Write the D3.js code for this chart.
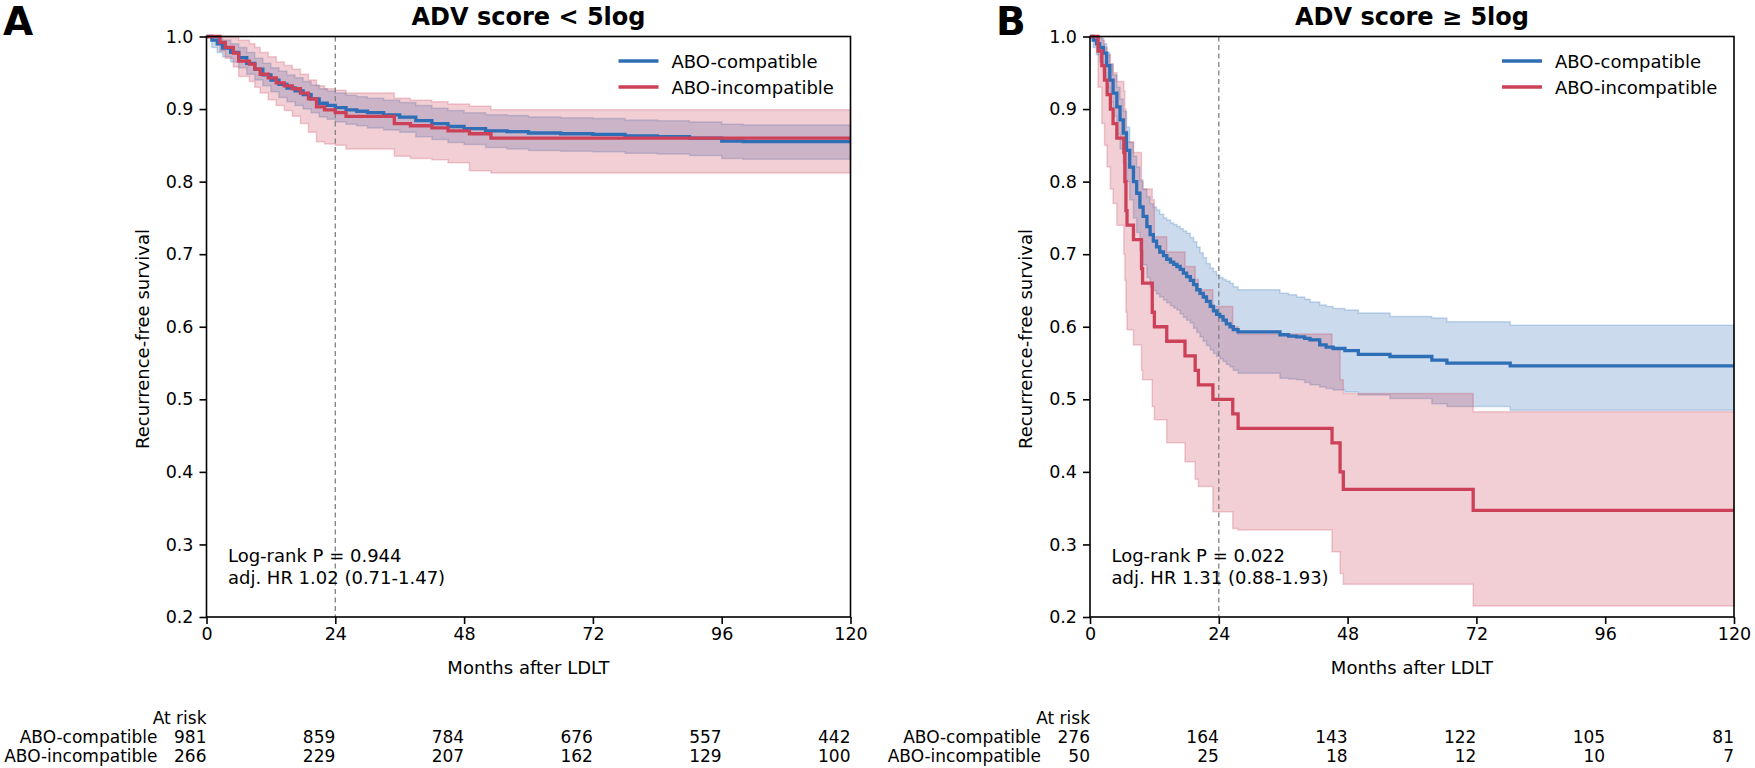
<!DOCTYPE html>
<html>
<head>
<meta charset="utf-8">
<script src="https://cdn.jsdelivr.net/npm/d3@7"></script>
<style>
  body { margin: 0; background: #fff; }
  svg text { font-family: "DejaVu Sans", sans-serif; fill: #000; }
</style>
</head>
<body>
<svg id="chart" width="1755" height="768"></svg>
<script>
// ---- data ----
const monthTicks = [0, 24, 48, 72, 96, 120];
const survTicks = [0.2, 0.3, 0.4, 0.5, 0.6, 0.7, 0.8, 0.9, 1.0];
const groupNames = ["ABO-compatible", "ABO-incompatible"];
const panelTitles = ["ADV score < 5log", "ADV score \u2265 5log"];
const panelLetters = ["A", "B"];
const logRankText = ["Log-rank P = 0.944", "Log-rank P = 0.022"];
const hrText = ["adj. HR 1.02 (0.71-1.47)", "adj. HR 1.31 (0.88-1.93)"];

// panel A, ABO-compatible
const aCompT = [0, 1, 2, 3, 4.5, 6, 7.5, 9, 10.5, 12, 13.5, 15, 16.5, 18, 19.5, 21, 22.5, 24, 26, 28, 30, 33, 36, 39, 42, 45, 48, 52, 56, 60, 66, 72, 78, 84, 90, 96, 100];
const aCompS = [1.0, .995, .99, .984, .978, .971, .963, .955, .947, .94, .934, .929, .925, .92, .914, .908, .905, .902, .899, .897, .895, .892, .889, .884, .88, .876, .873, .87, .869, .867, .866, .865, .863, .862, .86, .856, .855];
const aCompHi = [1.0, 1.0, .998, .995, .99, .985, .978, .97, .963, .957, .952, .947, .943, .938, .933, .928, .925, .922, .919, .917, .915, .912, .909, .905, .901, .898, .895, .892, .891, .889, .888, .887, .885, .884, .882, .879, .878];
const aCompLo = [1.0, .985, .978, .972, .965, .957, .948, .94, .932, .924, .916, .91, .905, .9, .895, .889, .886, .882, .879, .877, .874, .871, .868, .862, .858, .854, .851, .847, .845, .843, .842, .841, .839, .838, .836, .832, .831];

// panel A, ABO-incompatible
const aIncT = [0, 2.5, 3.5, 5, 6, 8, 9, 10, 11.5, 13, 14.5, 16, 17.5, 19, 20.5, 22, 24, 26, 35, 38, 42, 45, 49, 53];
const aIncS = [1.0, .992, .985, .977, .966, .962, .955, .948, .943, .936, .932, .928, .922, .914, .903, .899, .895, .89, .88, .877, .874, .87, .866, .86];
const aIncHi = [1.0, 1.0, 1.0, 1.0, .995, .99, .985, .978, .972, .965, .96, .955, .948, .94, .932, .928, .926, .922, .915, .912, .91, .907, .904, .899];
const aIncLo = [1.0, .98, .97, .958, .945, .938, .93, .922, .913, .905, .898, .89, .88, .868, .855, .852, .85, .845, .835, .832, .83, .826, .815, .812];

// panel B, ABO-compatible
const bCompT = [0, 0.6, 1.2, 1.8, 2.5, 3.1, 3.7, 4.3, 5.0, 5.6, 6.2, 6.8, 7.4, 8.1, 8.7, 9.3, 9.9, 10.6, 11.2, 11.8, 12.4, 13.0, 13.7, 14.3, 15.0, 15.6, 16.2, 16.8, 17.4, 18.0, 18.7, 19.3, 19.9, 20.5, 21.1, 21.7, 22.4, 23.0, 23.6, 24.2, 24.8, 25.4, 26.1, 26.7, 27.6, 35.4, 37.0, 38.5, 40.0, 41.0, 42.8, 44.0, 45.3, 47.5, 50.0, 55.9, 63.7, 66.5, 78.3];
const bCompS = [1.0, .995, .99, .985, .977, .96, .94, .922, .903, .885, .867, .843, .82, .80, .784, .765, .752, .738, .727, .718, .71, .703, .698, .693, .689, .686, .683, .679, .674, .669, .664, .658, .651, .646, .641, .635, .628, .622, .617, .614, .609, .604, .60, .596, .593, .589, .587, .586, .584, .582, .575, .572, .57, .567, .562, .559, .554, .55, .546];
const bCompHi = [1.0, 1.0, 1.0, .998, .99, .978, .962, .947, .93, .914, .897, .875, .854, .835, .82, .802, .79, .779, .77, .765, .761, .755, .75, .747, .743, .741, .738, .735, .732, .729, .723, .717, .71, .702, .695, .687, .681, .676, .671, .668, .665, .663, .66, .655, .651, .646, .644, .641, .638, .634, .63, .628, .625, .623, .619, .614, .612, .607, .602];
const bCompLo = [1.0, .985, .975, .965, .95, .93, .91, .89, .865, .845, .825, .8, .775, .75, .73, .705, .685, .668, .655, .65, .645, .641, .637, .633, .629, .626, .623, .618, .613, .609, .605, .598, .592, .586, .58, .574, .568, .563, .559, .556, .552, .548, .545, .54, .536, .529, .528, .527, .523, .52, .517, .515, .513, .51, .506, .501, .494, .49, .485];

// panel B, ABO-incompatible
const bIncT = [0, 1.5, 2.2, 2.7, 3.2, 3.8, 4.3, 5.0, 6.3, 6.5, 6.7, 6.9, 8.1, 9.6, 9.8, 11.6, 12.0, 14.3, 17.7, 19.6, 20.2, 22.9, 26.6, 27.6, 45.1, 46.6, 47.2, 71.4];
const bIncS = [1.0, .98, .96, .94, .92, .90, .88, .86, .84, .80, .76, .74, .72, .68, .66, .62, .60, .58, .56, .54, .52, .50, .48, .46, .44, .40, .376, .347];
const bIncHi = [1.0, 1.0, .995, .985, .975, .962, .95, .938, .925, .90, .87, .855, .84, .80, .79, .775, .724, .703, .683, .665, .651, .628, .60, .59, .57, .527, .508, .483];
const bIncLo = [1.0, .93, .88, .85, .82, .79, .77, .74, .70, .664, .62, .596, .575, .54, .527, .49, .472, .44, .414, .39, .38, .345, .322, .32, .29, .26, .245, .215];

// numbers at risk at 0, 24, 48, 72, 96, 120 months
const aRiskComp = [981, 859, 784, 676, 557, 442];
const aRiskInc = [266, 229, 207, 162, 129, 100];
const bRiskComp = [276, 164, 143, 122, 105, 81];
const bRiskInc = [50, 25, 18, 12, 10, 7];

const colors = ["#2e6eb6", "#cc4058"];

// ---- drawing ----
const svg = d3.select("#chart");
const plotW = 644, plotTop = 36.5, plotBottom = 617;

const panels = [
    {left: 206.5, letterX: 3, curves: [[aCompT, aCompS, aCompLo, aCompHi], [aIncT, aIncS, aIncLo, aIncHi]], risk: [aRiskComp, aRiskInc]},
    {left: 1090, letterX: 996, curves: [[bCompT, bCompS, bCompLo, bCompHi], [bIncT, bIncS, bIncLo, bIncHi]], risk: [bRiskComp, bRiskInc]}
];

panels.forEach((p, i) => drawPanel(p, i));

function drawPanel(p, i) {
    const x = d3.scaleLinear().domain([0, 120]).range([p.left, p.left + plotW]);
    const y = d3.scaleLinear().domain([0.2, 1.0]).range([plotBottom, plotTop]);
    const g = svg.append("g");

    // build step points, carrying the last value to the end of follow-up
    const series = p.curves.map(c => {
        const pts = c[0].map((t, k) => ({t: t, s: c[1][k], lo: c[2][k], hi: c[3][k]}));
        const last = pts[pts.length - 1];
        pts.push({t: 120, s: last.s, lo: last.lo, hi: last.hi});
        return pts;
    });

    const area = d3.area()
        .curve(d3.curveStepAfter)
        .x(d => x(d.t))
        .y0(d => y(d.lo))
        .y1(d => y(d.hi));
    const line = d3.line()
        .curve(d3.curveStepAfter)
        .x(d => x(d.t))
        .y(d => y(d.s));

    series.forEach((pts, k) => {
        g.append("path")
            .attr("d", area(pts))
            .attr("fill", colors[k])
            .attr("fill-opacity", 0.25)
            .attr("stroke", colors[k])
            .attr("stroke-opacity", 0.25)
            .attr("stroke-width", 1.5);
    });

    // 24-month reference line
    g.append("line")
        .attr("x1", x(24)).attr("x2", x(24))
        .attr("y1", plotTop).attr("y2", plotBottom)
        .attr("stroke", "#808080")
        .attr("stroke-width", 1.3)
        .attr("stroke-dasharray", "5,3.5");

    series.forEach((pts, k) => {
        g.append("path")
            .attr("d", line(pts))
            .attr("fill", "none")
            .attr("stroke", colors[k])
            .attr("stroke-width", 3.3);
    });

    // frame
    g.append("rect")
        .attr("x", p.left).attr("y", plotTop)
        .attr("width", plotW).attr("height", plotBottom - plotTop)
        .attr("fill", "none")
        .attr("stroke", "#000")
        .attr("stroke-width", 1.6);

    const yAxis = g.append("g")
        .attr("transform", "translate(" + p.left + ",0)")
        .call(d3.axisLeft(y).tickValues(survTicks).tickFormat(d3.format(".1f")).tickSize(7).tickPadding(6));
    const xAxis = g.append("g")
        .attr("transform", "translate(0," + plotBottom + ")")
        .call(d3.axisBottom(x).tickValues(monthTicks).tickSize(7).tickPadding(4));
    [yAxis, xAxis].forEach(a => {
        a.select(".domain").remove();
        a.selectAll(".tick line").attr("stroke", "#000").attr("stroke-width", 1.6);
        a.selectAll(".tick text").attr("font-size", 17.5).attr("font-family", "DejaVu Sans").attr("fill", "#000");
    });

    // labels
    g.append("text")
        .attr("x", p.left + plotW / 2).attr("y", 674)
        .attr("text-anchor", "middle").attr("font-size", 18)
        .text("Months after LDLT");
    g.append("text")
        .attr("transform", "translate(" + (p.left - 58) + ",339) rotate(-90)")
        .attr("text-anchor", "middle").attr("font-size", 18)
        .text("Recurrence-free survival");
    g.append("text")
        .attr("x", p.left + plotW / 2).attr("y", 25)
        .attr("text-anchor", "middle").attr("font-size", 24).attr("font-weight", "bold")
        .text(panelTitles[i]);
    g.append("text")
        .attr("x", p.letterX).attr("y", 35)
        .attr("font-family", "Liberation Sans, Arial, sans-serif")
        .attr("font-size", 39).attr("font-weight", "bold")
        .text(panelLetters[i]);

    // legend
    groupNames.forEach((name, k) => {
        const ly = 61 + k * 26;
        g.append("line")
            .attr("x1", p.left + plotW - 232).attr("x2", p.left + plotW - 192)
            .attr("y1", ly).attr("y2", ly)
            .attr("stroke", colors[k]).attr("stroke-width", 3.5);
        g.append("text")
            .attr("x", p.left + plotW - 179).attr("y", ly + 6.5)
            .attr("font-size", 18)
            .text(name);
    });

    // stats
    g.append("text")
        .attr("x", x(4)).attr("y", 562).attr("font-size", 18)
        .text(logRankText[i]);
    g.append("text")
        .attr("x", x(4)).attr("y", 584).attr("font-size", 18)
        .text(hrText[i]);

    // numbers at risk
    g.append("text")
        .attr("x", x(0)).attr("y", 724)
        .attr("text-anchor", "end").attr("font-size", 17)
        .text("At risk");
    groupNames.forEach((name, k) => {
        const ry = 743 + k * 18.5;
        g.append("text")
            .attr("x", x(0) - 49).attr("y", ry)
            .attr("text-anchor", "end").attr("font-size", 17)
            .text(name);
        g.selectAll(null)
            .data(p.risk[k])
            .enter()
            .append("text")
            .attr("x", (d, j) => x(monthTicks[j]))
            .attr("y", ry)
            .attr("text-anchor", "end")
            .attr("font-size", 17)
            .text(d => d);
    });
}
</script>
</body>
</html>
